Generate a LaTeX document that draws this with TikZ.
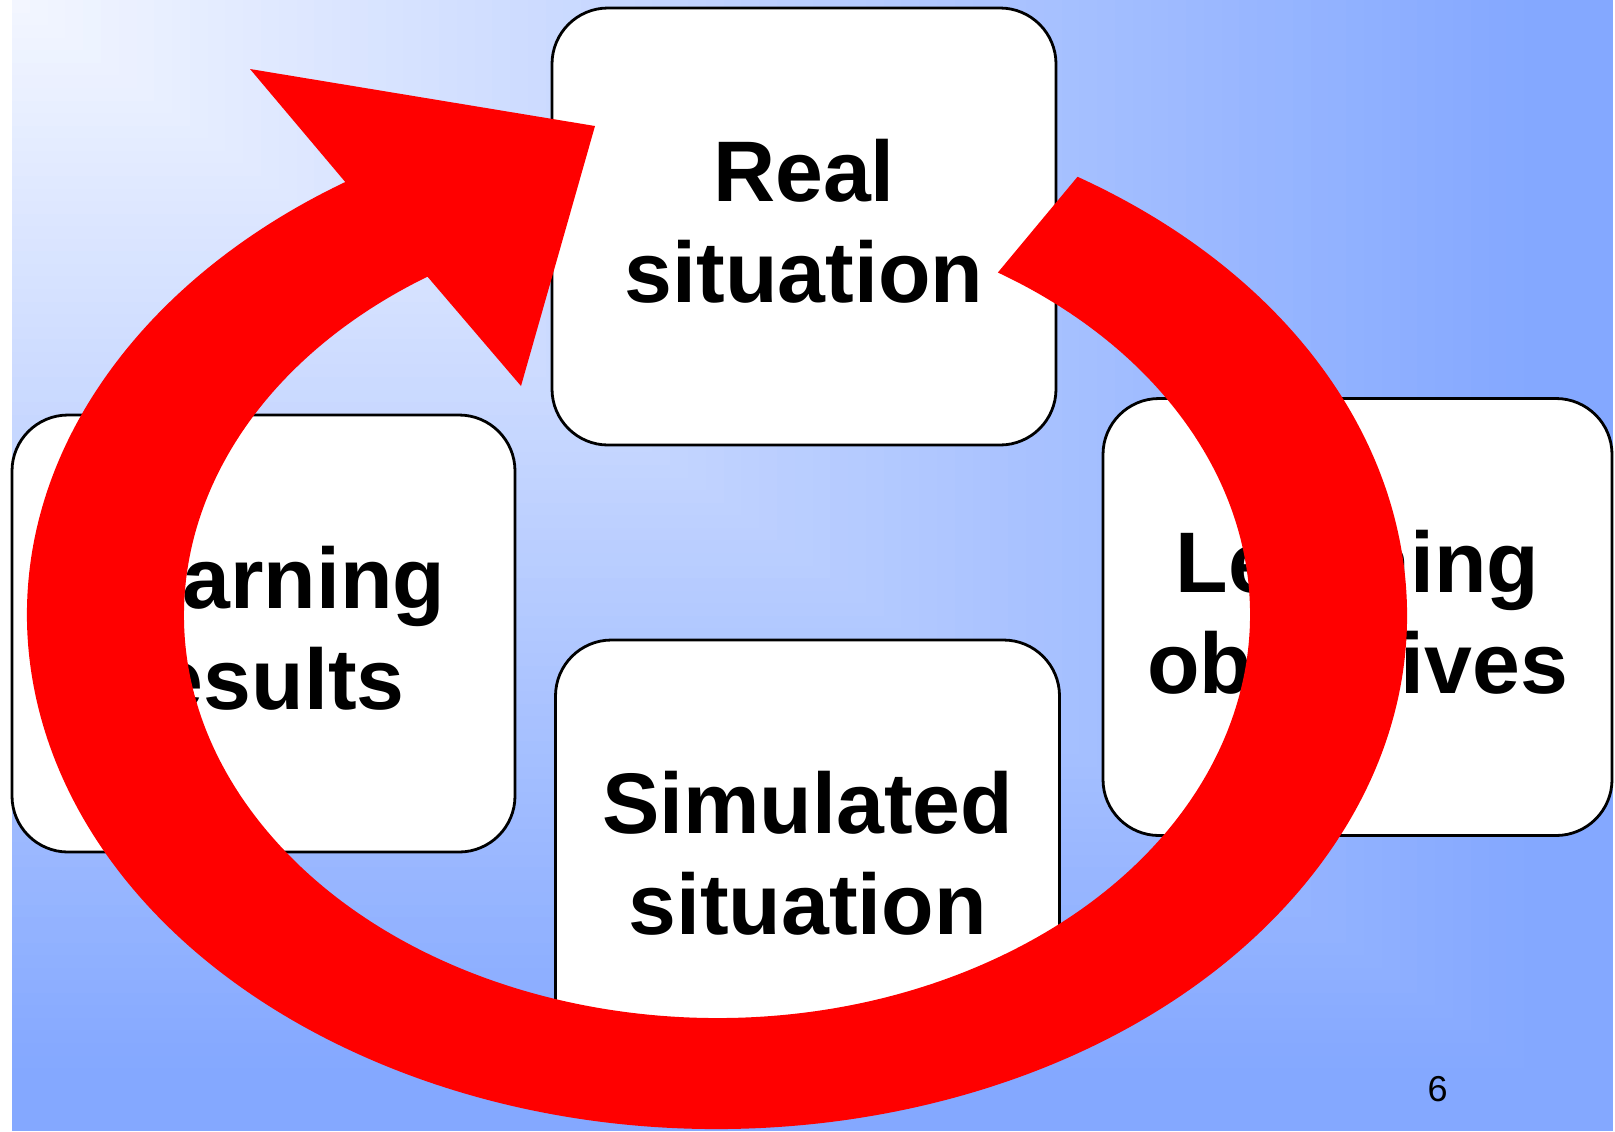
\documentclass[tikz,border=0pt]{standalone}
\usepackage{fontspec}
\setmainfont{Liberation Sans}
\usetikzlibrary{calc}
\definecolor{slidelight}{HTML}{F4F7FF}
\definecolor{slideblue}{HTML}{84A8FF}
\definecolor{ringred}{HTML}{FF0000}
\begin{document}
\begin{tikzpicture}[x=0.5pt, y=-0.5pt,
        stage/.style={draw, line width=1.4pt, rounded corners=28pt, fill=white,
            minimum width=252pt, minimum height=218.5pt, inner sep=0pt, align=center,
            text height=76pt, text depth=0pt, font=\bfseries\fontsize{43}{50.5}\selectfont}]
        \useasboundingbox (0,0) rectangle (1615,1131);
        \fill[white] (0,0) rectangle (1615,1131);
        % background, lightest at the top left corner
        \foreach \k in {0,...,89}{
            \pgfmathsetmacro{\shrink}{1-\k/90}
            \pgfmathsetmacro{\pct}{min(100,100*\shrink/0.95)}
            \fill[slideblue!\pct!slidelight] (12,0) rectangle ({12+1601*\shrink},{1131*\shrink});
        }

        \node (real) [stage] at (804,226.5) {Real\\situation};
        \node (results) [stage, minimum width=251.5pt] at (263.5,633.5) {Learning\\results};
        \node (objectives) [stage, minimum width=254.5pt] at (1357.5,617) {Learning\\objectives};
        \node (simulated) [stage] at (807.5,858.5) {Simulated\\situation};
        \node (pagenum) at (1437.5,1089) {\fontsize{18}{20}\selectfont 6};

        % the red circular arrow
        \coordinate (ring) at (717,615);
        \coordinate (barbout) at (250,69);
        \coordinate (tip) at (595,126);
        \coordinate (barbin) at (521,386);
        \fill[ringred] (ring) ++(-58.5:690 and 514)
            arc[start angle=-58.5, end angle=237.4, x radius=690, y radius=514]
            -- (barbout) -- (tip) -- (barbin)
            -- ($(ring)+(237.1:533 and 403)$)
            arc[start angle=237.1, end angle=-58.2, x radius=533, y radius=403]
            -- cycle;
    \end{tikzpicture}
\end{document}
